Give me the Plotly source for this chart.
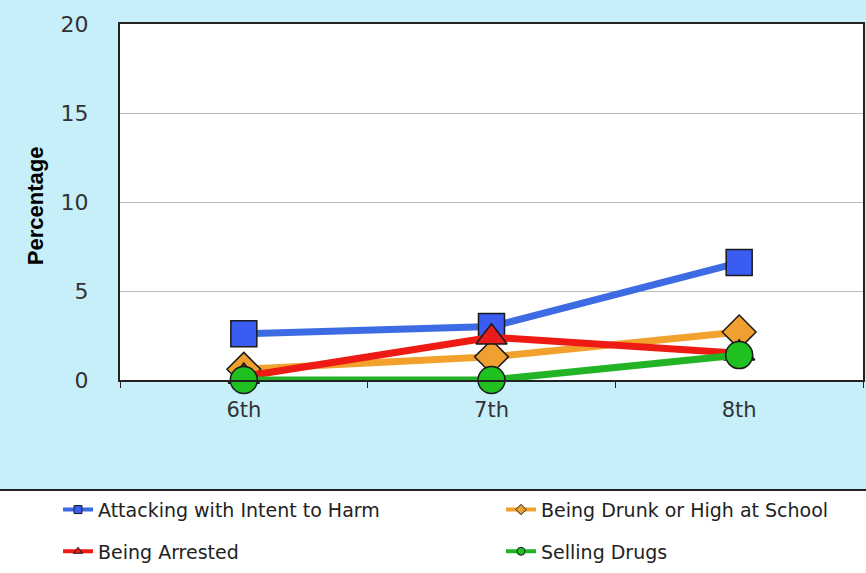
import plotly.graph_objects as go

grades = ["6th", "7th", "8th"]
attacking = [2.6, 3.0, 6.6]
drunk_high = [0.6, 1.3, 2.7]
arrested = [0.2, 2.4, 1.5]
selling = [0.0, 0.0, 1.4]
y_ticks = [0, 5, 10, 15, 20]

# name, values, line colour, marker colour, symbol, marker size, legend
series = [
    ("Attacking with Intent to Harm", attacking, "#3D6BE3", "#3A5CF0", "square", 26, "legend"),
    ("Being Drunk or High at School", drunk_high, "#F2A22C", "#F0A030", "diamond", 26, "legend2"),
    ("Being Arrested", arrested, "#EE1A14", "#E81C1C", "triangle-up", 27, "legend"),
    ("Selling Drugs", selling, "#22B425", "#20C020", "circle", 27, "legend2"),
]

fig = go.Figure()

for name, vals, lc, mc, sym, sz, lg in series:
    fig.add_trace(go.Scatter(
        x=grades, y=vals, mode="lines+markers", name=name, showlegend=False,
        line=dict(color=lc, width=7),
        marker=dict(symbol=sym, size=sz, color=mc, line=dict(color="#1a1a1a", width=1.5)),
        cliponaxis=False,
    ))

# small-marker copies just for the legend (two columns -> two legends)
for name, vals, lc, mc, sym, sz, lg in series:
    fig.add_trace(go.Scatter(
        x=[None], y=[None], mode="lines+markers", name=name,
        legend=lg, legendgroup=name,
        line=dict(color=lc, width=4),
        marker=dict(symbol=sym, size=8, color=mc, line=dict(color="#1a1a1a", width=1)),
    ))

# white legend panel along the bottom
fig.add_shape(type="rect", xref="paper", yref="paper",
              x0=-0.17, x1=1.01, y0=-0.6, y1=-0.309,
              fillcolor="white", line=dict(width=0), layer="below")
fig.add_shape(type="line", xref="paper", yref="paper",
              x0=-0.17, x1=1.01, y0=-0.309, y1=-0.309,
              line=dict(color="#222222", width=2))

fig.add_annotation(text="<b>Percentage</b>", textangle=-90, showarrow=False,
                   xref="paper", yref="paper", x=-0.133, y=0.49,
                   font=dict(family="Liberation Sans, Arial", size=22, color="black"))

legend_style = dict(
    orientation="v", yanchor="top", y=-0.311, xanchor="left",
    bgcolor="rgba(0,0,0,0)", tracegroupgap=14, traceorder="grouped",
    font=dict(family="DejaVu Sans", size=19, color="#222222"),
)

fig.update_layout(
    width=866, height=573,
    margin=dict(l=120, r=3, t=24, b=193, autoexpand=False),
    paper_bgcolor="#C6EFF9",
    plot_bgcolor="white",
    font=dict(family="DejaVu Sans", color="#333333"),
    legend=dict(x=(58 - 120) / 743, **legend_style),
    legend2=dict(x=(501 - 120) / 743, **legend_style),
    xaxis=dict(
        type="category", tickson="boundaries", ticks="outside", ticklen=6,
        tickcolor="#222222", showline=True, linecolor="#222222", linewidth=2,
        mirror=True, showgrid=False, range=[-0.5, 2.5], ticklabelstandoff=10,
        tickfont=dict(family="DejaVu Sans", size=21, color="#333333"),
    ),
    yaxis=dict(
        range=[0, 20], tickvals=y_ticks, showline=True, linecolor="#222222",
        linewidth=2, mirror=True, gridcolor="#BBBBBB", gridwidth=1,
        zeroline=False, ticks="", ticklabelstandoff=25,
        tickfont=dict(family="DejaVu Sans", size=22, color="#333333"),
    ),
)

fig.write_html("out.html", config={"displayModeBar": False},
               post_script="document.body.style.margin='0';")
